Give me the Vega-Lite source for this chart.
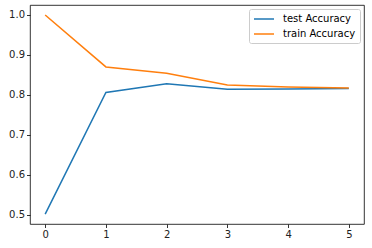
{
  "$schema": "https://vega.github.io/schema/vega-lite/v6.json",
  "width": 334,
  "height": 219,
  "autosize": {"type": "none"},
  "padding": {"left": 30, "top": 5, "right": 8, "bottom": 24},
  "background": "white",
  "config": {
    "view": {"stroke": "black", "strokeWidth": 0.8},
    "font": "DejaVu Sans",
    "axis": {
      "grid": false,
      "domain": false,
      "tickColor": "black",
      "tickWidth": 0.8,
      "tickSize": 3.5,
      "labelFontSize": 10,
      "labelColor": "#222",
      "labelPadding": 2,
      "title": null
    }
  },
  "data": {
    "values": [
      {"epoch": 0, "series": "test Accuracy", "acc": 0.502},
      {"epoch": 1, "series": "test Accuracy", "acc": 0.806},
      {"epoch": 2, "series": "test Accuracy", "acc": 0.828},
      {"epoch": 3, "series": "test Accuracy", "acc": 0.814},
      {"epoch": 4, "series": "test Accuracy", "acc": 0.815},
      {"epoch": 5, "series": "test Accuracy", "acc": 0.816},
      {"epoch": 0, "series": "train Accuracy", "acc": 1.0},
      {"epoch": 1, "series": "train Accuracy", "acc": 0.870},
      {"epoch": 2, "series": "train Accuracy", "acc": 0.854},
      {"epoch": 3, "series": "train Accuracy", "acc": 0.825},
      {"epoch": 4, "series": "train Accuracy", "acc": 0.820},
      {"epoch": 5, "series": "train Accuracy", "acc": 0.817}
    ]
  },
  "mark": {"type": "line", "strokeWidth": 1.5},
  "encoding": {
    "x": {
      "field": "epoch", "type": "quantitative",
      "scale": {"domain": [-0.25, 5.25], "nice": false, "zero": false},
      "axis": {"values": [0, 1, 2, 3, 4, 5], "format": "d"}
    },
    "y": {
      "field": "acc", "type": "quantitative",
      "scale": {"domain": [0.4771, 1.0249], "nice": false, "zero": false},
      "axis": {"values": [0.5, 0.6, 0.7, 0.8, 0.9, 1.0], "format": ".1f"}
    },
    "color": {
      "field": "series", "type": "nominal",
      "scale": {"domain": ["test Accuracy", "train Accuracy"], "range": ["#1f77b4", "#ff7f0e"]},
      "legend": {
        "title": null,
        "orient": "top-right",
        "offset": 4,
        "symbolType": "M-2,0H2",
        "symbolSize": 100,
        "symbolOffset": 5,
        "symbolStrokeWidth": 1.5,
        "labelOffset": 13,
        "labelFontSize": 10,
        "labelColor": "black",
        "rowPadding": 4,
        "strokeColor": "#cccccc",
        "fillColor": "white",
        "cornerRadius": 2,
        "padding": 4
      }
    }
  }
}
